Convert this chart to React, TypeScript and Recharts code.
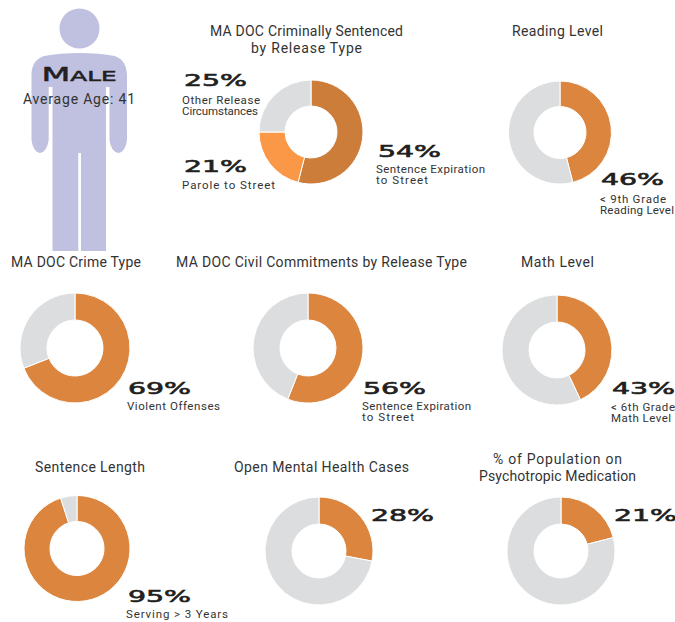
import { PieChart, Pie, Cell } from 'recharts'

const ORANGE = '#dc853e'
const GREY = '#dcddde'

const releaseNames = ['Sentence Expiration to Street', 'Parole to Street', 'Other Release Circumstances']
const releaseValues = [54, 21, 25]
const releaseColors = ['#cc7d39', '#fb9848', GREY]

const donutNames = ['Reading', 'Crime', 'Civil', 'Math', 'Sentence', 'Mental', 'Psych']
const donutValues = [46, 69, 56, 43, 95, 28, 21]
const donutGeometry = [
  { cx: 560, cy: 132.5, r: 51.5, inner: 26 },
  { cx: 75, cy: 348, r: 55, inner: 28 },
  { cx: 308, cy: 348, r: 55, inner: 28 },
  { cx: 557, cy: 350, r: 55, inner: 28 },
  { cx: 77, cy: 548.5, r: 53, inner: 27 },
  { cx: 319, cy: 551, r: 54, inner: 27 },
  { cx: 561, cy: 551, r: 54, inner: 27 },
]

const titles = [
  { x: 306.5, y: 36, w: 193, t: 'MA DOC Criminally Sentenced' },
  { x: 306.5, y: 53, w: 111, t: 'by Release Type' },
  { x: 557.5, y: 36, w: 91, t: 'Reading Level' },
  { x: 76, y: 267, w: 130, t: 'MA DOC Crime Type' },
  { x: 321.5, y: 267, w: 291, t: 'MA DOC Civil Commitments by Release Type' },
  { x: 557.5, y: 267, w: 73, t: 'Math Level' },
  { x: 90, y: 472, w: 110, t: 'Sentence Length' },
  { x: 321.5, y: 472, w: 175, t: 'Open Mental Health Cases' },
  { x: 557.5, y: 464, w: 129, t: '% of Population on' },
  { x: 557.5, y: 481, w: 157, t: 'Psychotropic Medication' },
]

const bigNumbers = [
  { x: 184, y: 86, t: '25%' },
  { x: 184, y: 171.5, t: '21%' },
  { x: 378, y: 157, t: '54%' },
  { x: 601, y: 185, t: '46%' },
  { x: 128, y: 394, t: '69%' },
  { x: 363, y: 394, t: '56%' },
  { x: 612, y: 394, t: '43%' },
  { x: 128, y: 602, t: '95%' },
  { x: 371, y: 521, t: '28%' },
  { x: 614, y: 521, t: '21%' },
]

const captions = [
  { x: 182, y: 104, w: 78, t: 'Other Release' },
  { x: 182, y: 115, w: 76, t: 'Circumstances' },
  { x: 182, y: 189, w: 93, t: 'Parole to Street' },
  { x: 376, y: 173, w: 109, t: 'Sentence Expiration' },
  { x: 376, y: 184, w: 52, t: 'to Street' },
  { x: 600, y: 203, w: 66, t: '< 9th Grade' },
  { x: 600, y: 214, w: 74, t: 'Reading Level' },
  { x: 127, y: 410, w: 93, t: 'Violent Offenses' },
  { x: 362, y: 410, w: 109, t: 'Sentence Expiration' },
  { x: 362, y: 421, w: 52, t: 'to Street' },
  { x: 611, y: 411, w: 64, t: '< 6th Grade' },
  { x: 611, y: 422, w: 60, t: 'Math Level' },
  { x: 126, y: 618, w: 102, t: 'Serving > 3 Years' },
]

const FONT = '"Liberation Sans Narrow", Roboto, sans-serif'
const BIG_FONT = '"DejaVu Sans", sans-serif'

function Figure() {
  return (
    <g fill="#c0c1e0">
      <circle cx={79.5} cy={28.5} r={20} />
      <path d="M52.5 251 L52.5 87 L48.7 87 L48.7 140 Q47 152 40 153 Q33 152 31.5 140 L31.5 74 Q32 60 44 56 Q60 53 79.5 53 Q99 53 115 56 Q126 60 127 74 L127 140 Q125.5 152 118.5 153 Q111 152 109.5 140 L109.5 87 L106 87 L106 251 L81 251 L81 153 L78.3 153 L78.3 251 Z" />
    </g>
  )
}

export default function App() {
  return (
    <div style={{ position: 'absolute', left: 0, top: 0, width: 675, height: 622, overflow: 'hidden', background: '#fff' }}>
      <svg width={675} height={622} style={{ position: 'absolute', left: 0, top: 0 }}>
        <Figure />
      </svg>
      <div style={{ position: 'absolute', left: 0, top: 0 }}>
        <PieChart width={675} height={622} margin={{ top: 0, right: 0, bottom: 0, left: 0 }}>
          <Pie
            data={releaseNames.map((name, i) => ({ name, value: releaseValues[i] }))}
            dataKey="value"
            cx={311}
            cy={132}
            outerRadius={52}
            innerRadius={26}
            startAngle={90}
            endAngle={-270}
            stroke="#fff"
            strokeWidth={1}
            isAnimationActive={false}
          >
            {releaseNames.map((name, i) => (
              <Cell key={name} fill={releaseColors[i]} />
            ))}
          </Pie>
          {donutNames.map((name, i) => {
            const g = donutGeometry[i]
            return (
              <Pie
                key={name}
                data={[
                  { name, value: donutValues[i] },
                  { name: 'Other', value: 100 - donutValues[i] },
                ]}
                dataKey="value"
                cx={g.cx}
                cy={g.cy}
                outerRadius={g.r}
                innerRadius={g.inner}
                startAngle={90}
                endAngle={-270}
                stroke="#fff"
                strokeWidth={1}
                isAnimationActive={false}
              >
                <Cell fill={ORANGE} />
                <Cell fill={GREY} />
              </Pie>
            )
          })}
        </PieChart>
      </div>
      <svg width={675} height={622} style={{ position: 'absolute', left: 0, top: 0 }}>
        <text x={79} y={81} textAnchor="middle" fontFamily={BIG_FONT} fill="#231f20" stroke="#231f20" strokeWidth={0.5} fontSize={19} textLength={75} lengthAdjust="spacingAndGlyphs">
          M<tspan fontSize={14}>ALE</tspan>
        </text>
        <text x={79} y={104} textAnchor="middle" fontFamily={FONT} fontSize={14} fill="#333" textLength={112} lengthAdjust="spacing">
          Average Age: 41
        </text>
        {titles.map((d) => (
          <text key={d.t} x={d.x} y={d.y} textAnchor="middle" fontFamily={FONT} fontSize={14} fill="#333" textLength={d.w} lengthAdjust="spacing">
            {d.t}
          </text>
        ))}
        {bigNumbers.map((d) => (
          <text key={d.x + d.t} x={d.x} y={d.y} fontFamily={BIG_FONT} fontSize={16} fill="#231f20" stroke="#231f20" strokeWidth={0.6} textLength={63} lengthAdjust="spacingAndGlyphs">
            {d.t}
          </text>
        ))}
        {captions.map((d) => (
          <text key={d.x + d.t} x={d.x} y={d.y} fontFamily={FONT} fontSize={11.5} fill="#333" textLength={d.w} lengthAdjust="spacing">
            {d.t}
          </text>
        ))}
      </svg>
    </div>
  )
}
